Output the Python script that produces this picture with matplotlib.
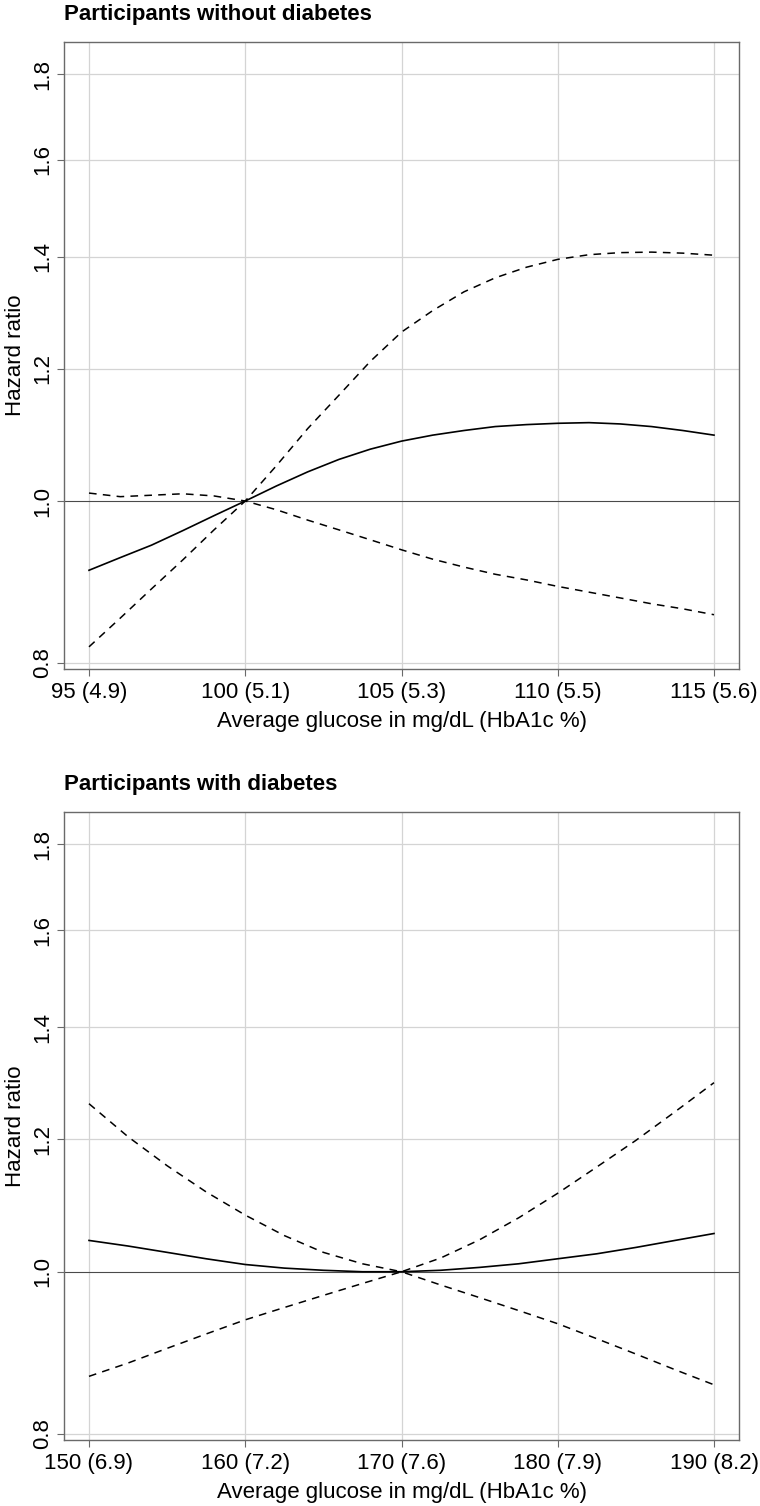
import matplotlib
matplotlib.use('Agg')
import matplotlib.pyplot as plt
from matplotlib.ticker import FixedLocator, NullLocator, FixedFormatter

plt.rcParams['font.family'] = ['Liberation Sans', 'DejaVu Sans']
plt.rcParams['lines.scale_dashes'] = False

# --- data: participants without diabetes ---
glu_nodm = [95, 96, 97, 98, 99, 100, 101, 102, 103, 104, 105,
            106, 107, 108, 109, 110, 111, 112, 113, 114, 115]
hr_nodm = [0.909, 0.925, 0.941, 0.960, 0.980, 1.000, 1.021, 1.041, 1.059, 1.074, 1.086,
           1.095, 1.102, 1.108, 1.111, 1.113, 1.114, 1.112, 1.108, 1.102, 1.095]
hi_nodm = [1.011, 1.006, 1.008, 1.010, 1.007, 1.000, 1.050, 1.105, 1.157, 1.212, 1.262,
           1.300, 1.334, 1.360, 1.380, 1.395, 1.404, 1.408, 1.409, 1.407, 1.403]
lo_nodm = [0.818, 0.851, 0.886, 0.922, 0.961, 1.000, 0.988, 0.974, 0.961, 0.948, 0.935,
           0.923, 0.913, 0.904, 0.897, 0.889, 0.882, 0.875, 0.868, 0.862, 0.855]
xticks_nodm = [95, 100, 105, 110, 115]
xlabels_nodm = ['95 (4.9)', '100 (5.1)', '105 (5.3)', '110 (5.5)', '115 (5.6)']

# --- data: participants with diabetes ---
glu_dm = [150, 152.5, 155, 157.5, 160, 162.5, 165, 167.5, 170,
          172.5, 175, 177.5, 180, 182.5, 185, 187.5, 190]
hr_dm = [1.044, 1.036, 1.027, 1.018, 1.010, 1.005, 1.002, 1.000, 1.000,
         1.002, 1.006, 1.011, 1.018, 1.025, 1.034, 1.044, 1.054]
hi_dm = [1.260, 1.204, 1.157, 1.116, 1.081, 1.051, 1.027, 1.011, 1.000,
         1.019, 1.045, 1.077, 1.114, 1.155, 1.198, 1.246, 1.297]
lo_dm = [0.866, 0.882, 0.900, 0.918, 0.936, 0.952, 0.968, 0.984, 1.000,
         0.982, 0.965, 0.948, 0.931, 0.912, 0.893, 0.874, 0.856]
xticks_dm = [150, 160, 170, 180, 190]
xlabels_dm = ['150 (6.9)', '160 (7.2)', '170 (7.6)', '180 (7.9)', '190 (8.2)']

yticks = [0.8, 1.0, 1.2, 1.4, 1.6, 1.8]
ylabels = ['0.8', '1.0', '1.2', '1.4', '1.6', '1.8']

fig = plt.figure(figsize=(7.6, 15.06), dpi=100)
W, H = 760, 1506


def panel(box, title, x, hr, hi, lo, xt, xl):
    left, top, right, bottom = box
    ax = fig.add_axes([left / W, 1 - bottom / H, (right - left) / W, (bottom - top) / H])
    ax.set_yscale('log')
    pad = (xt[-1] - xt[0]) * 0.04
    ax.set_xlim(xt[0] - pad, xt[-1] + pad)
    ax.set_ylim(0.7934, 1.882)

    ax.yaxis.set_major_locator(FixedLocator(yticks))
    ax.yaxis.set_major_formatter(FixedFormatter(ylabels))
    ax.yaxis.set_minor_locator(NullLocator())
    ax.set_xticks(xt)
    ax.set_xticklabels(xl)

    for v in xt:
        ax.axvline(v, color='#d4d4d4', lw=0.9, zorder=0)
    for v in yticks:
        if v != 1.0:
            ax.axhline(v, color='#d4d4d4', lw=0.9, zorder=0)
    ax.axhline(1.0, color='#4a4a4a', lw=0.8, zorder=1)

    ax.plot(x, hr, color='black', lw=1.2, zorder=3)
    ax.plot(x, hi, color='black', lw=1.1, dashes=(5.5, 4.5), zorder=3)
    ax.plot(x, lo, color='black', lw=1.1, dashes=(5.5, 4.5), zorder=3)

    for s in ax.spines.values():
        s.set_color('#6a6a6a')
        s.set_linewidth(1.0)
    ax.tick_params(axis='both', direction='out', length=5, width=0.8,
                   color='#6a6a6a', labelsize=16, pad=4)
    ax.tick_params(axis='y', labelrotation=90, pad=3)
    for lab in ax.get_yticklabels():
        lab.set_va('center')

    ax.set_xlabel('Average glucose in mg/dL (HbA1c %)', fontsize=16, labelpad=6)
    ax.set_ylabel('Hazard ratio', fontsize=16, labelpad=4)
    ax.set_title(title, loc='left', fontsize=16, fontweight='bold', pad=16)
    return ax


panel((64, 42, 739, 669), 'Participants without diabetes',
      glu_nodm, hr_nodm, hi_nodm, lo_nodm, xticks_nodm, xlabels_nodm)
panel((64, 812, 739, 1440), 'Participants with diabetes',
      glu_dm, hr_dm, hi_dm, lo_dm, xticks_dm, xlabels_dm)

fig.savefig('out.png', dpi=100, facecolor='white')
